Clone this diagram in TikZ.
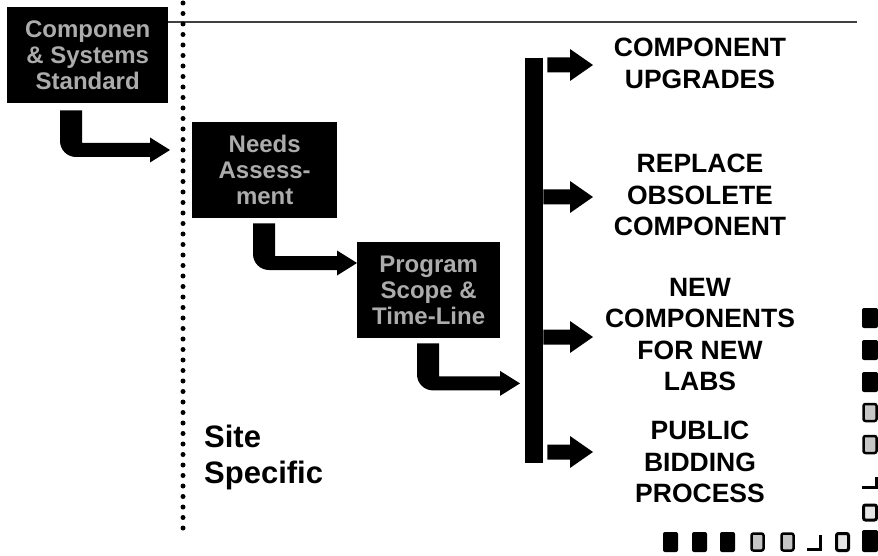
\documentclass[tikz,border=0pt]{standalone}
\usepackage{fontspec}
\setmainfont{Liberation Sans}
\usetikzlibrary{calc}

\tikzset{
  stage/.style={fill=black, text=gray!65, font=\fontsize{24}{26}\selectfont\bfseries,
                align=center, inner sep=0pt, anchor=north west, minimum height=96pt},
  outcome/.style={font=\fontsize{26.5}{31.6}\selectfont\bfseries, align=center, inner sep=0pt},
  sidenote/.style={font=\fontsize{31}{36}\selectfont\bfseries, align=left, inner sep=0pt, anchor=north west},
  fat/.style={fill=black},
  tile/.style={fill=black, rounded corners=2pt},
  tileh/.style={fill=gray!45, draw=black, line width=2.5pt, rounded corners=2pt},
  tiled/.style={fill=gray!20, draw=black, line width=3pt, rounded corners=2pt},
  corner/.style={line width=3pt},
}

% thick L-shaped arrow: #1 = top-left of the vertical shaft, #2 = arrow tip
\newcommand\bentarrow[2]{%
  \fill[fat] let \p1=(#1), \p2=(#2) in
    (\x1,\y1) -- (\x1+22pt,\y1) -- (\x1+22pt,\y2+7pt) -- (\x2-20pt,\y2+7pt)
    -- (\x2-20pt,\y2+12.5pt) -- (\x2,\y2) -- (\x2-20pt,\y2-12.5pt)
    -- (\x2-20pt,\y2-7pt) -- (\x1+16pt,\y2-7pt)
    arc[start angle=270, end angle=180, radius=16pt] -- cycle;}

% short straight block arrow: #1 = start of shaft, #2 = tip
\newcommand\blockarrow[2]{%
  \fill[fat] let \p1=(#1), \p2=(#2) in
    (\x1,\y1+7.5pt) -- (\x2-23pt,\y1+7.5pt) -- (\x2-23pt,\y1+16pt) -- (\x2,\y1)
    -- (\x2-23pt,\y1-16pt) -- (\x2-23pt,\y1-7.5pt) -- (\x1,\y1-7.5pt) -- cycle;}

\begin{document}
\begin{tikzpicture}[x=1pt, y=-1pt]
\useasboundingbox (0,0) rectangle (878,556);

% stage boxes
\node[stage, minimum width=161pt] (box1) at (7,7)    {Componen\\\& Systems\\Standard};
\node[stage, minimum width=145pt] (box2) at (192,122) {Needs\\Assess-\\ment};
\node[stage, minimum width=143pt] (box3) at (357,242) {Program\\Scope \&\\Time-Line};

% header rule and dotted divider
\coordinate (ruleend) at (857,22);
\draw[line width=1.2pt, black!75] ($(box1.north east)+(0,15)$) -- (ruleend);
\coordinate (dtop) at (183,3);
\coordinate (dbot) at (183,534);
\draw[line width=5pt, line cap=round, dash pattern=on 0pt off 10.5pt] (dtop) -- (dbot);

% distribution bar
\node[fill=black, minimum width=18pt, minimum height=405pt, inner sep=0pt, anchor=north west] (bar) at (525,58) {};

% bent arrows between stages
\coordinate (t1) at ($(box2.north west)+(-22,28)$);
\coordinate (t2) at ($(box3.north west)+(0,21)$);
\coordinate (t3) at ($(bar.south west)+(-5,-80)$);
\bentarrow{$(box1.south west)+(53,7)$}{t1}
\bentarrow{$(box2.south west)+(61,5)$}{t2}
\bentarrow{$(box3.south west)+(60,5)$}{t3}

% outcome arrows
\coordinate (o1) at (593,65);
\coordinate (o2) at (593,197);
\coordinate (o3) at (593,337);
\coordinate (o4) at (593,452);
\blockarrow{$(bar.north east)+(4,7)$}{o1}
\blockarrow{$(bar.north east)+(0,139)$}{o2}
\blockarrow{$(bar.north east)+(0,279)$}{o3}
\blockarrow{$(bar.north east)+(4,394)$}{o4}

% outcome labels
\node[outcome] (l1) at (700,63.5) {COMPONENT\\UPGRADES};
\node[outcome] (l2) at (700,195)  {REPLACE\\OBSOLETE\\COMPONENT};
\node[outcome] (l3) at (700,334.5) {NEW\\COMPONENTS\\FOR NEW\\LABS};
\node[outcome] (l4) at (700,462)  {PUBLIC\\BIDDING\\PROCESS};

\node[sidenote] (site) at (204,425) {Site\\Specific};

% decorative tiles along the lower right
\foreach \yy in {308,340,372} \fill[tile] (862,\yy) rectangle ++(16,20);
\foreach \yy in {404,436} \draw[tileh] (863.5,\yy) rectangle ++(13,17);
\draw[corner] (862,487) -- (876.5,487) -- (876.5,477);
\draw[tiled] (863.5,505) rectangle ++(13,15);
\fill[tile] (862,530) rectangle ++(16,22);

\foreach \xx in {663,692,720} \fill[tile] (\xx,532) rectangle ++(15,20);
\foreach \xx in {751.5,781.5} \draw[tileh] (\xx,533.5) rectangle ++(12,17);
\draw[corner] (807,549.5) -- (820.5,549.5) -- (820.5,535);
\draw[tiled] (836.5,533.5) rectangle ++(12,17);
\end{tikzpicture}
\end{document}
